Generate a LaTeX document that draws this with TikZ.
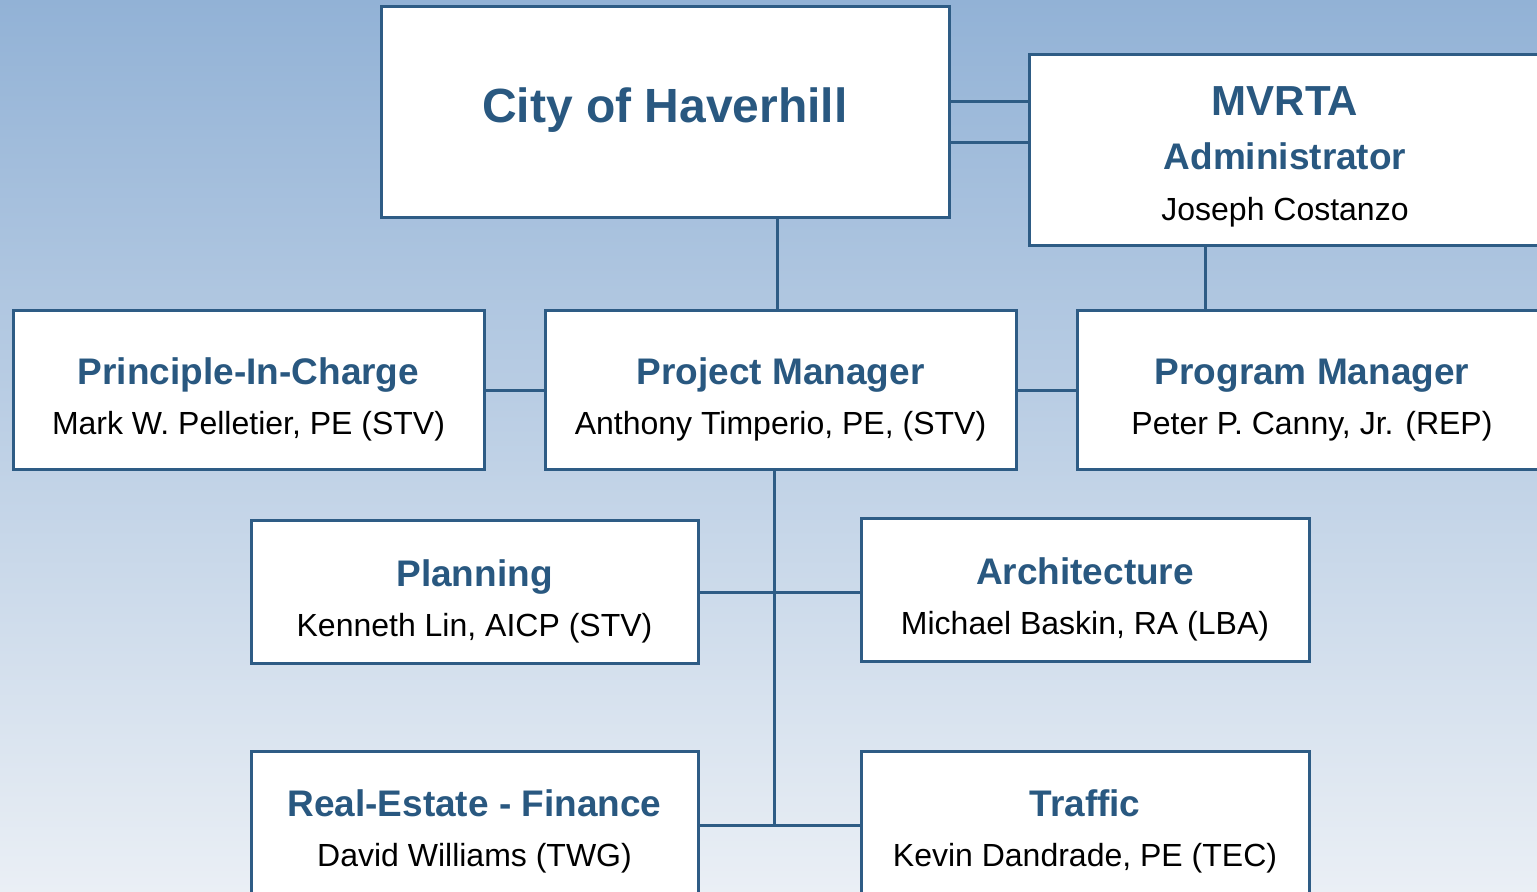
\documentclass[tikz,border=0pt]{standalone}
\usepackage{fontspec}
\setmainfont{Liberation Sans}
\usepackage{tikz}
\usetikzlibrary{positioning,calc}

\definecolor{orgline}{RGB}{46,92,133}
\definecolor{orgtext}{RGB}{41,88,128}
\definecolor{bgtop}{RGB}{146,178,214}
\definecolor{bgmid}{RGB}{198,215,233}
\definecolor{bgbot}{RGB}{234,239,245}

\newcommand{\orghead}[1]{{\fontsize{18.5}{25}\selectfont\bfseries\color{orgtext}#1}}

\begin{document}
\begin{tikzpicture}[x=0.5pt, y=-0.5pt, line cap=rect,
  orgbox/.style={draw=orgline, line width=1.5pt, fill=white, align=center,
    inner sep=0pt, font=\fontsize{16}{25}\selectfont,
    text height=44pt, text depth=0pt},
  link/.style={draw=orgline, line width=1.5pt}]

% --- background ---
\useasboundingbox (0,0) rectangle (1537,892);
\shade[top color=bgtop, middle color=bgmid, bottom color=bgbot]
  (0,0) rectangle (1537,892);

% ------------------ top row ------------------
\node[orgbox, minimum width=284pt, minimum height=105.5pt,
  text height=, text depth=7.5pt] (city) at (665,112.5)
  {\fontsize{24}{28}\selectfont\bfseries\color{orgtext}City of Haverhill};
\node[orgbox, minimum width=256pt, minimum height=95.5pt, font=\fontsize{16}{27}\selectfont,
  text height=69.6pt] (mvrta) at (1285,150.5)
  {{\fontsize{21}{27}\selectfont\bfseries\color{orgtext}MVRTA}\\
   \orghead{Administrator}\\[-1.5pt] Joseph Costanzo};

% ------------------ management row ------------------
\node[orgbox, minimum width=235.5pt, minimum height=79.5pt] (pic) at (248.5,390.5)
  {\orghead{Principle-In-Charge}\\ Mark W. Pelletier, PE (STV)};
\node[orgbox, minimum width=235.5pt, minimum height=79.5pt] (pm) at (780.5,390.5)
  {\orghead{Project Manager}\\ Anthony Timperio, PE, (STV)};
\node[orgbox, minimum width=235pt, minimum height=79.5pt] (prog) at (1312,390.5)
  {\orghead{Program Manager}\\ Peter P. Canny, Jr. (REP)};

% ------------------ disciplines ------------------
\node[orgbox, minimum width=223.5pt, minimum height=71.5pt] (plan) at (474.5,592.5)
  {\orghead{Planning}\\ Kenneth Lin, AICP (STV)};
\node[orgbox, minimum width=224pt, minimum height=71.5pt] (arch) at (1085,590.5)
  {\orghead{Architecture}\\ Michael Baskin, RA (LBA)};
\node[orgbox, minimum width=223.5pt, minimum height=71.5pt] (real) at (474.5,822.5)
  {\orghead{Real-Estate - Finance}\\ David Williams (TWG)};
\node[orgbox, minimum width=224pt, minimum height=71.5pt] (traf) at (1085,822.5)
  {\orghead{Traffic}\\ Kevin Dandrade, PE (TEC)};

% --- connectors ---
\draw[link] ([yshift=5.25pt]city.east) -- ([yshift=5.25pt]city.east -| mvrta.west);
\draw[link] ([yshift=-15.25pt]city.east) -- ([yshift=-15.25pt]city.east -| mvrta.west);
\draw[link] ([xshift=-1.75pt]pm.north) -- ([xshift=-1.75pt]pm.north |- city.south);
\draw[link] ([xshift=-40pt]mvrta.south) -- ([xshift=-40pt]mvrta.south |- prog.north);
\draw[link] (pic.east) -- (pm.west);
\draw[link] (pm.east) -- (prog.west);
\draw[link] ([xshift=-3.25pt]pm.south) -- ([xshift=-3.25pt,yshift=-1.25pt]pm.south |- real.east);
\draw[link] (plan.east) -- (plan.east -| arch.west);
\draw[link] ([yshift=-1.25pt]real.east) -- ([yshift=-1.25pt]traf.west);

\end{tikzpicture}
\end{document}
